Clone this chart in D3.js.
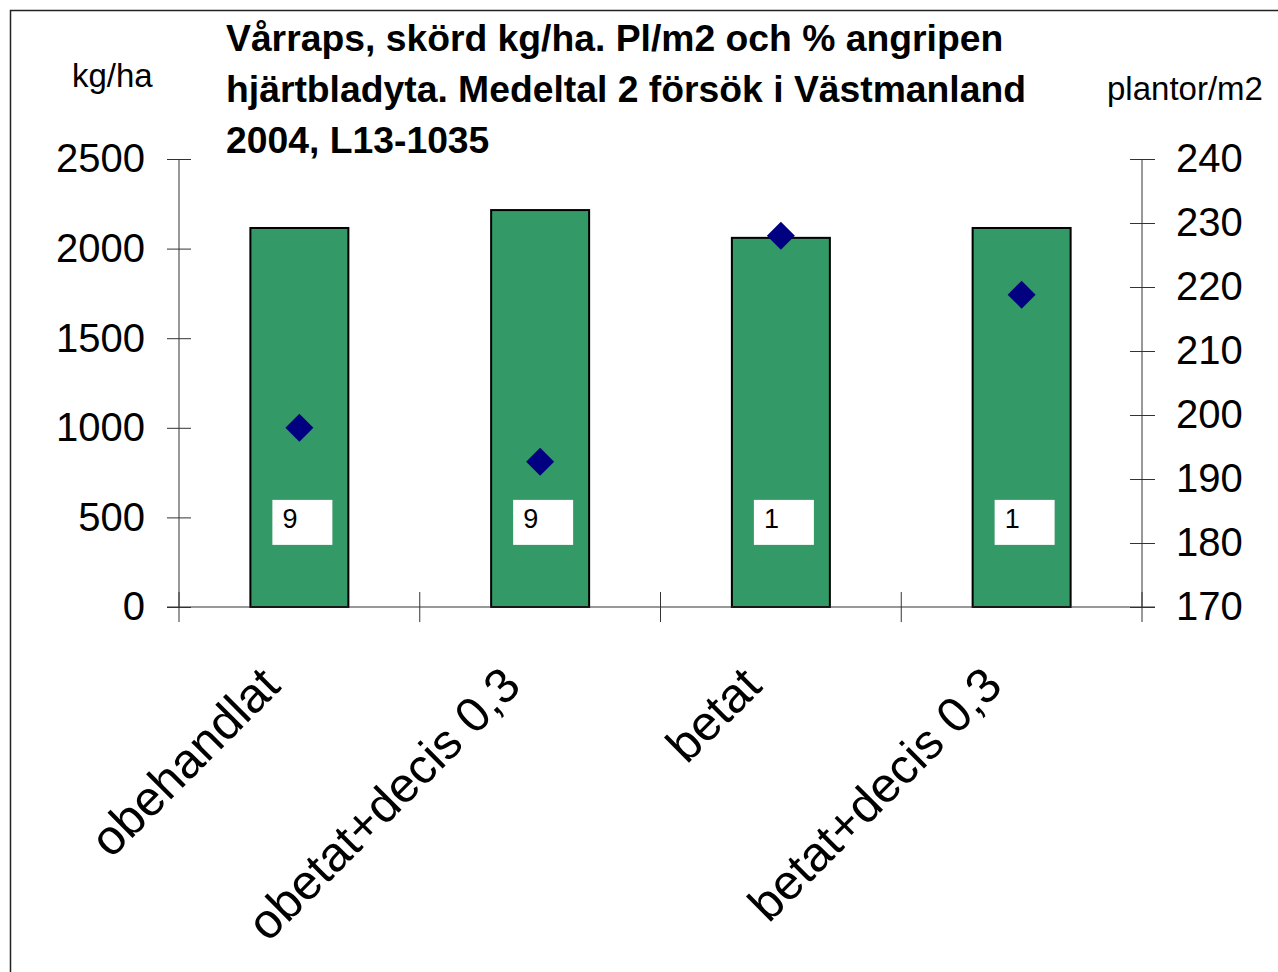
<!DOCTYPE html>
<html>
<head>
<meta charset="utf-8">
<title>Vårraps skörd</title>
<script src="https://d3js.org/d3.v7.min.js"></script>
<style>
  body { margin: 0; background: white; }
  svg text { font-family: "Liberation Sans", Arial, sans-serif; fill: black; }
  .tick-label { font-size: 40px; }
  .unit-label { font-size: 33px; }
  .title { font-size: 37.3px; font-weight: bold; }
  .cat-label { font-size: 49px; }
  .data-label { font-size: 27px; }
</style>
</head>
<body>
<div id="chart"></div>
<script>
// chart data
var categories = ["obehandlat", "obetat+decis 0,3", "betat", "betat+decis 0,3"];
var yieldKg = [2115, 2215, 2060, 2115];          // skörd kg/ha (bars, left axis)
var plants = [198, 192.7, 228, 218.8];           // plantor/m2 (diamonds, right axis)
var attacked = ["9", "9", "1", "1"];             // % angripen hjärtbladyta (labels)
var leftTicks = [0, 500, 1000, 1500, 2000, 2500];
var rightTicks = [170, 180, 190, 200, 210, 220, 230, 240];
var titleLines = ["Vårraps, skörd kg/ha. Pl/m2 och % angripen",
                  "hjärtbladyta. Medeltal 2 försök i Västmanland",
                  "2004, L13-1035"];

var W = 1278, H = 972;
var plot = { left: 179, right: 1142, top: 159, bottom: 607 };

var svg = d3.select("#chart").append("svg")
  .attr("width", W).attr("height", H);

// outer frame (only left and top edges are inside the picture)
svg.append("rect")
  .attr("x", 10.5).attr("y", 10.5)
  .attr("width", W + 20).attr("height", H + 20)
  .attr("fill", "white").attr("stroke", "#222").attr("stroke-width", 1.5);

var x = d3.scaleBand().domain(categories)
  .range([plot.left, plot.right]).paddingInner(0).paddingOuter(0);
var yL = d3.scaleLinear().domain([0, 2500]).range([plot.bottom, plot.top]);
var yR = d3.scaleLinear().domain([170, 240]).range([plot.bottom, plot.top]);

var barW = 98;

// bars
svg.selectAll(".bar").data(categories).enter().append("rect")
  .attr("class", "bar")
  .attr("x", function(d) { return x(d) + x.bandwidth() / 2 - barW / 2; })
  .attr("y", function(d, i) { return yL(yieldKg[i]); })
  .attr("width", barW)
  .attr("height", function(d, i) { return yL(0) - yL(yieldKg[i]); })
  .attr("fill", "#339966").attr("stroke", "black").attr("stroke-width", 2);

// left axis
var axL = svg.append("g").attr("transform", "translate(" + plot.left + ",0)")
  .call(d3.axisLeft(yL).tickValues(leftTicks).tickFormat(d3.format("d")).tickSize(12).tickPadding(22));
axL.selectAll(".tick line").attr("x2", 12).attr("x1", -12).attr("stroke", "#333");
axL.select(".domain").attr("d", "M0," + plot.top + "V" + plot.bottom).attr("stroke", "#333");
axL.selectAll("text").attr("class", "tick-label").attr("font-size", null).attr("font-family", null);

// right axis
var axR = svg.append("g").attr("transform", "translate(" + plot.right + ",0)")
  .call(d3.axisRight(yR).tickValues(rightTicks).tickSize(12).tickPadding(22));
axR.selectAll(".tick line").attr("x1", -12).attr("x2", 13).attr("stroke", "#333");
axR.select(".domain").attr("d", "M0," + plot.top + "V" + plot.bottom).attr("stroke", "#333");
axR.selectAll("text").attr("class", "tick-label").attr("font-size", null).attr("font-family", null);

// category axis
var axX = svg.append("g").attr("transform", "translate(0," + plot.bottom + ")")
  .call(d3.axisBottom(x).tickSize(0).tickFormat(""));
axX.select(".domain").attr("d", "M" + (plot.left - 12) + ",0H" + (plot.right + 13)).attr("stroke", "#333");
var bounds = categories.map(function(d) { return x(d); }).concat([plot.right]);
axX.selectAll(".cat-tick").data(bounds).enter().append("line")
  .attr("x1", function(d) { return d; }).attr("x2", function(d) { return d; })
  .attr("y1", -15).attr("y2", 15).attr("stroke", "#333");

// category labels, rotated
svg.selectAll(".cat-label").data(categories).enter().append("text")
  .attr("class", "cat-label")
  .attr("text-anchor", "end")
  .attr("transform", function(d) {
    return "translate(" + (x(d) + x.bandwidth() / 2 - 17) + "," + 688 + ") rotate(-45)";
  })
  .text(function(d) { return d; });

// % angripen labels
var lab = svg.selectAll(".lab").data(categories).enter().append("g")
  .attr("transform", function(d) {
    return "translate(" + (x(d) + x.bandwidth() / 2 + 3) + "," + yL(475) + ")";
  });
lab.append("rect").attr("x", -30).attr("y", -22).attr("width", 60).attr("height", 45)
  .attr("fill", "white");
lab.append("text").attr("class", "data-label")
  .attr("x", -20).attr("y", 6)
  .text(function(d, i) { return attacked[i]; });

// diamonds
svg.selectAll(".pt").data(categories).enter().append("path")
  .attr("class", "pt")
  .attr("d", d3.symbol(d3.symbolSquare, 392))
  .attr("transform", function(d, i) {
    return "translate(" + (x(d) + x.bandwidth() / 2) + "," + yR(plants[i]) + ") rotate(45)";
  })
  .attr("fill", "#000080");

// unit labels
svg.append("text").attr("class", "unit-label").attr("x", 72).attr("y", 87).text("kg/ha");
svg.append("text").attr("class", "unit-label").attr("x", 1107).attr("y", 100).text("plantor/m2");

// title
svg.append("text").attr("class", "title")
  .selectAll("tspan").data(titleLines).enter().append("tspan")
  .attr("x", 226).attr("y", function(d, i) { return 51 + i * 51; })
  .text(function(d) { return d; });
</script>
</body>
</html>
